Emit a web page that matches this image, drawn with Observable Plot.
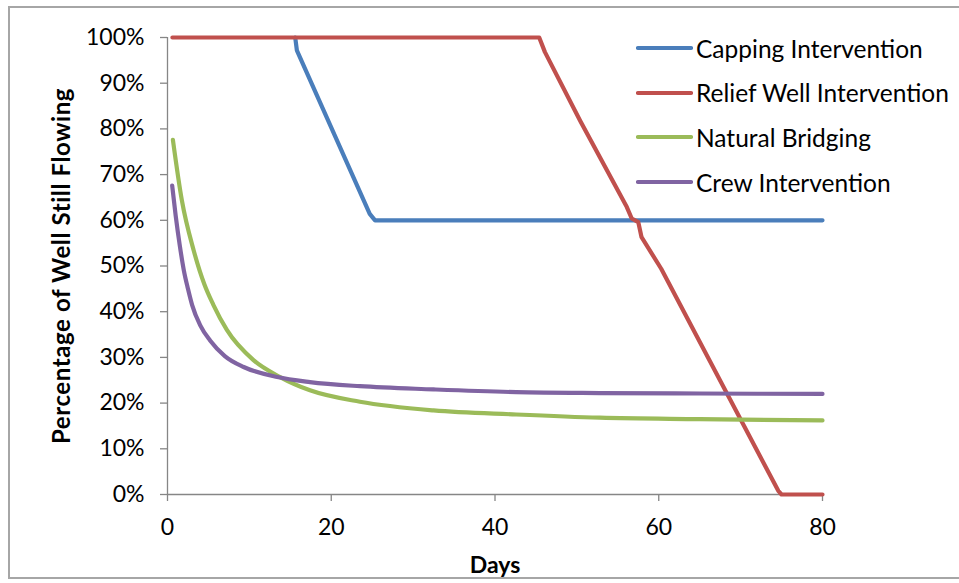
<!DOCTYPE html>
<html>
<head>
<meta charset="utf-8">
<script src="https://cdn.jsdelivr.net/npm/d3@7"></script>
<script src="https://cdn.jsdelivr.net/npm/@observablehq/plot@0.6"></script>
<style>
  html, body { margin: 0; padding: 0; background: #fff; }
  #chart { position: relative; width: 959px; height: 583px; font-family: Lato, "Open Sans", sans-serif; }
  #frame { position: absolute; left: 8px; top: 6px; width: 960px; height: 573px; border: 2px solid #a6a6a6; box-sizing: border-box; pointer-events: none; }
  #chart > svg { position: absolute; left: 0; top: 0; }
  g[aria-label="y-axis label"] text { font-weight: bold; font-size: 24px; letter-spacing: 0.6px; }
  g[aria-label="x-axis label"] text { font-weight: bold; }
  #legend { position: absolute; left: 636px; top: 33px; font-size: 24.5px; color: #000; }
  .row { position: absolute; left: 0; white-space: nowrap; display: flex; align-items: center; height: 30px; }
  .row svg { display: block; margin-right: 3px; }
</style>
</head>
<body>
<div id="chart">
  <div id="frame"></div>
  <div id="legend"></div>
</div>
<script>
// Days since the start of the blowout and share of wells still flowing (%)
const seriesNames = ["Capping Intervention", "Relief Well Intervention", "Natural Bridging", "Crew Intervention"];
const seriesColors = ["#4a7ebb", "#c0504d", "#9bbb59", "#8064a2"];

const cappingDays = [15.6, 15.8, 24.7, 25.35, 80];
const cappingPct  = [100, 97.2, 61.4, 60, 60];

const reliefDays = [0.6, 45.4, 46.1, 50.4, 56.1, 56.7, 57.5, 57.9, 60.3, 74.6, 75.0, 80];
const reliefPct  = [100, 100, 96.8, 81.8, 62.9, 60.4, 59.6, 56.3, 49.4, 0.8, 0, 0];

const bridgingDays = [0.66, 1.75, 3.2, 4.5, 5.6, 7.25, 10.5, 13.75, 17.4, 23.5, 32.5, 42.6, 52.8, 65, 80];
const bridgingPct  = [77.6, 64.4, 53.4, 46, 41.5, 36, 29.4, 25.7, 22.8, 20.3, 18.4, 17.5, 16.8, 16.5, 16.2];

const crewDays = [0.57, 1.0, 1.5, 2.0, 2.5, 3.0, 4.0, 5.2, 7.0, 9.3, 13.4, 17.4, 23.5, 32.5, 42.6, 52.8, 65, 80];
const crewPct  = [67.6, 61, 54.5, 49, 45, 41.5, 37, 33.7, 30.3, 27.9, 25.7, 24.6, 23.7, 23.0, 22.4, 22.2, 22.1, 22.0];

const xTicks = [0, 20, 40, 60, 80];
const yTicks = [0, 10, 20, 30, 40, 50, 60, 70, 80, 90, 100];

const toRows = (name, days, pct) => days.map((d, i) => ({series: name, day: d, pct: pct[i]}));
const seriesData = [
  toRows(seriesNames[0], cappingDays, cappingPct),
  toRows(seriesNames[1], reliefDays, reliefPct),
  toRows(seriesNames[2], bridgingDays, bridgingPct),
  toRows(seriesNames[3], crewDays, crewPct)
];

const axisGray = "#868686";

const chart = Plot.plot({
  width: 959,
  height: 583,
  marginLeft: 167,
  marginRight: 137,
  marginTop: 37,
  marginBottom: 89,
  style: {fontFamily: "Lato, 'Open Sans', sans-serif", fontSize: "23px", color: "#000", background: "transparent", overflow: "visible"},
  x: {domain: [0, 80]},
  y: {domain: [0, 100]},
  marks: [
    Plot.axisX({ticks: xTicks, tickSize: 7, tickPadding: 17, stroke: axisGray, fill: "#000", strokeWidth: 1.3,
      label: "Days", labelAnchor: "center", labelArrow: "none", labelOffset: 78}),
    Plot.axisY({ticks: yTicks, tickSize: 7, tickPadding: 16, tickFormat: d => d + "%", stroke: axisGray, fill: "#000", strokeWidth: 1.3,
      label: "Percentage of Well Still Flowing", labelAnchor: "center", labelArrow: "none", labelOffset: 115}),
    Plot.ruleX([0], {stroke: axisGray, strokeWidth: 1.3}),
    Plot.ruleY([0], {stroke: axisGray, strokeWidth: 1.3}),
    ...seriesData.map((rows, i) => Plot.line(rows, {
      x: "day", y: "pct", stroke: seriesColors[i], strokeWidth: 4.2,
      curve: i >= 2 ? "monotone-x" : "linear", strokeLinejoin: "round", strokeLinecap: "round"
    }))
  ]
});
document.getElementById("chart").insertBefore(chart, document.getElementById("frame"));

// Legend: colored swatch lines with series names
const legend = document.getElementById("legend");
seriesNames.forEach((name, i) => {
  const row = document.createElement("div");
  row.className = "row";
  row.style.top = (i * 44.7) + "px";
  row.innerHTML = `<svg width="57" height="10"><line x1="2" y1="5" x2="55" y2="5" stroke="${seriesColors[i]}" stroke-width="4.2" stroke-linecap="round"/></svg><span>${name}</span>`;
  legend.appendChild(row);
});
</script>
</body>
</html>
